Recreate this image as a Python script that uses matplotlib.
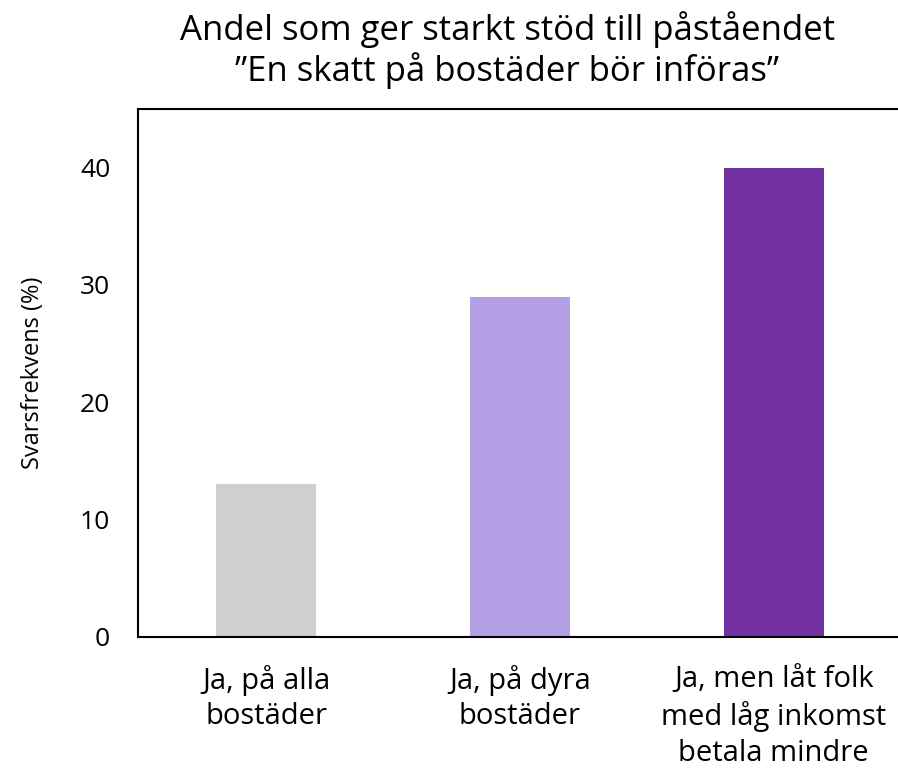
import matplotlib as mpl
import matplotlib.pyplot as plt

kategorier = ['Ja, på alla\nbostäder', 'Ja, på dyra\nbostäder', 'Ja, men låt folk\nmed låg inkomst\nbetala mindre']
andel = [13, 29, 40]
farger = ['#D0CECE', '#B4A0E5', '#7030A0']

mpl.rcParams['font.family'] = ['Open Sans', 'DejaVu Sans']

fig = plt.figure(figsize=(8.98, 7.74), dpi=100)
ax = fig.add_axes([138/898, 1 - 637/774, 1 - 138/898, (637 - 109)/774])

ax.bar(range(len(andel)), andel, width=0.395, color=farger, zorder=2)
ax.set_xlim(-0.505, 2.49)
ax.set_ylim(0, 45)
ax.set_yticks([0, 10, 20, 30, 40])
ax.set_xticks(range(len(kategorier)))
ax.set_xticklabels(kategorier, fontsize=21, linespacing=1.3)
ax.tick_params(axis='y', labelsize=19, length=0, pad=20)
ax.tick_params(axis='x', length=0, pad=20)
ax.spines['right'].set_visible(False)
for s in ['left', 'bottom', 'top']:
    ax.spines[s].set_linewidth(1.5)
ax.set_ylabel('Svarsfrekvens (%)', fontsize=17, labelpad=25)

fig.text(0.565, 1 - 50/774, 'Andel som ger starkt stöd till påståendet\n\u201dEn skatt på bostäder bör införas\u201d',
         ha='center', va='center', fontsize=25, linespacing=1.15)

fig.savefig('out.png', dpi=100)
